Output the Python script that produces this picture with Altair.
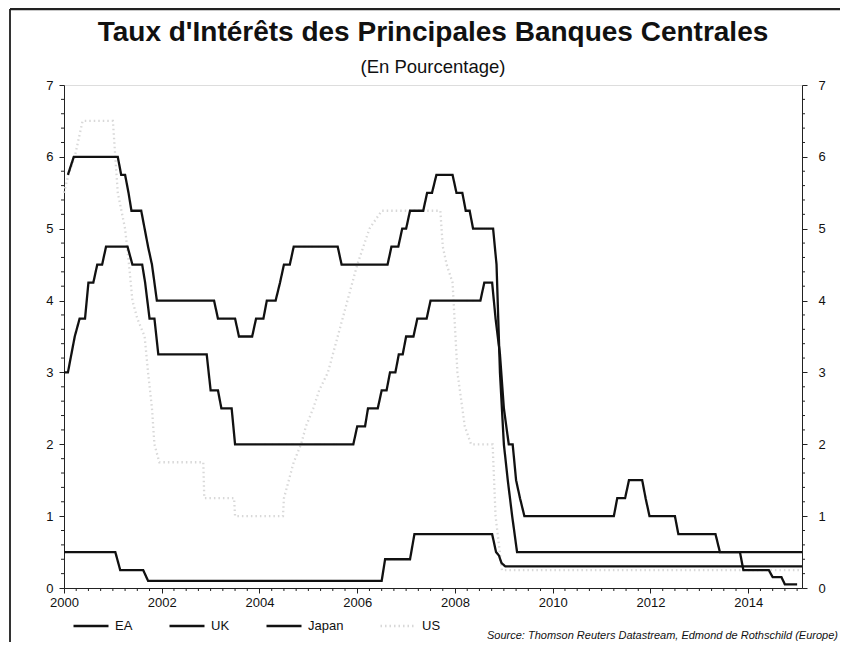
import altair as alt
import pandas as pd

# ---------------- data ----------------
series_names = ["EA", "UK", "Japan", "US"]

ea_t = [2000.0, 2000.08, 2000.15, 2000.22, 2000.32, 2000.43, 2000.5, 2000.6, 2000.68, 2000.78,
        2000.86, 2001.3, 2001.4, 2001.6, 2001.66, 2001.75, 2001.85, 2001.93, 2002.92, 2003.0,
        2003.15, 2003.22, 2003.43, 2003.5, 2005.92, 2006.0, 2006.16, 2006.22, 2006.42, 2006.5,
        2006.6, 2006.67, 2006.78, 2006.85, 2006.93, 2007.0, 2007.15, 2007.23, 2007.42, 2007.5,
        2008.52, 2008.6, 2008.76, 2008.83, 2008.92, 2009.0, 2009.1, 2009.18, 2009.25, 2009.33,
        2009.42, 2011.25, 2011.32, 2011.48, 2011.56, 2011.83, 2011.9, 2011.98, 2012.5, 2012.57,
        2013.33, 2013.42, 2013.83, 2013.9, 2014.42, 2014.5, 2014.68, 2014.75, 2015.0]
ea_v = [3.0, 3.0, 3.25, 3.5, 3.75, 3.75, 4.25, 4.25, 4.5, 4.5,
        4.75, 4.75, 4.5, 4.5, 4.25, 3.75, 3.75, 3.25, 3.25, 2.75,
        2.75, 2.5, 2.5, 2.0, 2.0, 2.25, 2.25, 2.5, 2.5, 2.75,
        2.75, 3.0, 3.0, 3.25, 3.25, 3.5, 3.5, 3.75, 3.75, 4.0,
        4.0, 4.25, 4.25, 3.75, 3.25, 2.5, 2.0, 2.0, 1.5, 1.25,
        1.0, 1.0, 1.25, 1.25, 1.5, 1.5, 1.25, 1.0, 1.0, 0.75,
        0.75, 0.5, 0.5, 0.25, 0.25, 0.15, 0.15, 0.05, 0.05]

uk_t = [2000.08, 2000.2, 2001.1, 2001.17, 2001.25, 2001.32, 2001.38, 2001.58, 2001.65, 2001.72,
        2001.8, 2001.9, 2003.07, 2003.15, 2003.5, 2003.58, 2003.85, 2003.93, 2004.08, 2004.15,
        2004.33, 2004.42, 2004.5, 2004.62, 2004.7, 2005.6, 2005.68, 2006.62, 2006.7, 2006.84,
        2006.92, 2007.0, 2007.08, 2007.35, 2007.43, 2007.53, 2007.62, 2007.95, 2008.03, 2008.15,
        2008.22, 2008.3, 2008.37, 2008.78, 2008.85, 2008.92, 2009.0, 2009.08, 2009.17, 2009.27,
        2015.1]
uk_v = [5.75, 6.0, 6.0, 5.75, 5.75, 5.5, 5.25, 5.25, 5.0, 4.75,
        4.5, 4.0, 4.0, 3.75, 3.75, 3.5, 3.5, 3.75, 3.75, 4.0,
        4.0, 4.25, 4.5, 4.5, 4.75, 4.75, 4.5, 4.5, 4.75, 4.75,
        5.0, 5.0, 5.25, 5.25, 5.5, 5.5, 5.75, 5.75, 5.5, 5.5,
        5.25, 5.25, 5.0, 5.0, 4.5, 3.0, 2.0, 1.5, 1.0, 0.5,
        0.5]

jp_t = [2000.0, 2001.05, 2001.15, 2001.62, 2001.72, 2006.5, 2006.57, 2007.08, 2007.17, 2008.76,
        2008.84, 2008.9, 2008.95, 2009.03, 2015.1]
jp_v = [0.5, 0.5, 0.25, 0.25, 0.1, 0.1, 0.4, 0.4, 0.75, 0.75,
        0.5, 0.45, 0.35, 0.3, 0.3]

us_t = [2000.0, 2000.09, 2000.22, 2000.38, 2001.0, 2001.05, 2001.1, 2001.25, 2001.33, 2001.4,
        2001.5, 2001.65, 2001.72, 2001.8, 2001.85, 2001.95, 2002.85, 2002.87, 2003.48, 2003.5,
        2004.48, 2004.5, 2004.6, 2004.7, 2004.85, 2004.95, 2005.1, 2005.22, 2005.4, 2005.6,
        2005.8, 2006.0, 2006.25, 2006.5, 2007.7, 2007.75, 2007.83, 2007.95, 2008.05, 2008.2,
        2008.33, 2008.77, 2008.8, 2008.83, 2008.96, 2015.1]
us_v = [5.5, 5.75, 6.0, 6.5, 6.5, 6.0, 5.5, 5.0, 4.5, 4.0,
        3.75, 3.5, 3.0, 2.5, 2.0, 1.75, 1.75, 1.25, 1.25, 1.0,
        1.0, 1.25, 1.5, 1.75, 2.0, 2.25, 2.5, 2.75, 3.0, 3.5,
        4.0, 4.5, 5.0, 5.25, 5.25, 4.75, 4.5, 4.25, 3.0, 2.25,
        2.0, 2.0, 1.5, 1.0, 0.25, 0.25]

year_labels = [2000, 2002, 2004, 2006, 2008, 2010, 2012, 2014]
y_labels = [0, 1, 2, 3, 4, 5, 6, 7]

title_text = "Taux d'Intérêts des Principales Banques Centrales"
subtitle_text = "(En Pourcentage)"
source_text = "Source: Thomson Reuters Datastream, Edmond de Rothschild (Europe)"

# ---------------- build tables ----------------
rows = []
for name, ts, vs in [("US", us_t, us_v), ("EA", ea_t, ea_v), ("UK", uk_t, uk_v), ("Japan", jp_t, jp_v)]:
    for i, (t, v) in enumerate(zip(ts, vs)):
        rows.append({"series": name, "t": t, "rate": v, "idx": i})
df = pd.DataFrame(rows)

x_minor = pd.DataFrame({"q": [2000 + k * 0.25 for k in range(61) if k % 8 != 0]})
y_minor = pd.DataFrame({"v": [round(k * 0.2, 1) for k in range(36) if k % 5 != 0]})

W, H = 738, 503
FONT = "Liberation Sans"
INK = "#111111"
US_GREY = "#d8d8d8"

xscale = alt.Scale(domain=[2000, 2015.1], nice=False, zero=False)
yscale = alt.Scale(domain=[0, 7], nice=False)

x_axis = alt.Axis(values=year_labels, format="d", title=None, grid=False, tickSize=5,
                  labelPadding=3, labelFontSize=13, labelFont=FONT, labelColor=INK,
                  domainColor="#222222", tickColor="#222222", labelFlush=False)
y_left = alt.Axis(values=y_labels, format="d", title=None, grid=False, tickSize=5,
                  labelPadding=6, labelFontSize=13, labelFont=FONT, labelColor=INK,
                  domainColor="#222222", tickColor="#222222", orient="left")
y_right = alt.Axis(values=y_labels, format="d", title=None, grid=False, tickSize=5,
                   labelPadding=11, labelFontSize=13, labelFont=FONT, labelColor=INK,
                   domainColor="#222222", tickColor="#222222", orient="right")

lines = alt.Chart(df).mark_line(interpolate="linear").encode(
    x=alt.X("t:Q", scale=xscale, axis=x_axis),
    y=alt.Y("rate:Q", scale=yscale, axis=y_left),
    color=alt.Color("series:N",
                    scale=alt.Scale(domain=series_names, range=[INK, INK, INK, US_GREY]),
                    legend=alt.Legend(orient="none", legendX=8, legendY=522, direction="horizontal",
                                      title=None, symbolType="stroke", symbolSize=1225,
                                      symbolStrokeWidth=2, labelFontSize=13, labelFont=FONT,
                                      labelColor=INK, columnPadding=31, labelOffset=5, padding=0)),
    strokeDash=alt.StrokeDash("series:N",
                              scale=alt.Scale(domain=series_names, range=[[1, 0], [1, 0], [1, 0], [1.5, 3]]),
                              legend=None),
    strokeWidth=alt.StrokeWidth("series:N",
                                scale=alt.Scale(domain=series_names, range=[2.3, 2.3, 2.3, 1.2]),
                                legend=None),
    order="idx:Q",
)

xminor_layer = alt.Chart(x_minor).mark_rule(color="#222222", strokeWidth=1).encode(
    x=alt.X("q:Q", scale=xscale, axis=x_axis),
    y=alt.value(H), y2=alt.value(H + 3),
)

yminor_left = alt.Chart(y_minor).mark_rule(color="#222222", strokeWidth=1).encode(
    y=alt.Y("v:Q", scale=yscale, axis=None),
    x=alt.value(0), x2=alt.value(-3),
)

yminor_right = alt.Chart(y_minor).mark_rule(color="#222222", strokeWidth=1).encode(
    y=alt.Y("v:Q", scale=yscale, axis=y_right),
    x=alt.value(W), x2=alt.value(W + 3),
)

title_layer = alt.Chart(pd.DataFrame({"s": [title_text]})).mark_text(
    font=FONT, fontSize=28, fontWeight="bold", color=INK, align="center", baseline="middle"
).encode(text="s:N", x=alt.value(W / 2), y=alt.value(-52))

subtitle_layer = alt.Chart(pd.DataFrame({"s": [subtitle_text]})).mark_text(
    font=FONT, fontSize=18.5, color=INK, align="center", baseline="middle"
).encode(text="s:N", x=alt.value(W / 2), y=alt.value(-18))

source_layer = alt.Chart(pd.DataFrame({"s": [source_text]})).mark_text(
    font=FONT, fontSize=11, fontStyle="italic", color=INK, align="left", baseline="alphabetic"
).encode(text="s:N", x=alt.value(423), y=alt.value(554))

frame_left = alt.Chart(pd.DataFrame({"a": [0]})).mark_rule(color="#333333", strokeWidth=2).encode(
    x=alt.value(-54), y=alt.value(-76), y2=alt.value(570))
frame_top = alt.Chart(pd.DataFrame({"a": [0]})).mark_rule(color="#222222", strokeWidth=2.5).encode(
    x=alt.value(-54), x2=alt.value(800), y=alt.value(-76))

chart = alt.layer(
    frame_left, frame_top, xminor_layer, yminor_left, yminor_right, lines,
    title_layer, subtitle_layer, source_layer,
).resolve_axis(y="independent").properties(
    width=W, height=H,
    autosize=alt.AutoSizeParams(type="none"),
    padding={"left": 56, "top": 77, "right": 38, "bottom": 54},
).configure_view(stroke=None).configure(background="white")

chart.save("out.html", embed_options={"renderer": "svg", "actions": False})
